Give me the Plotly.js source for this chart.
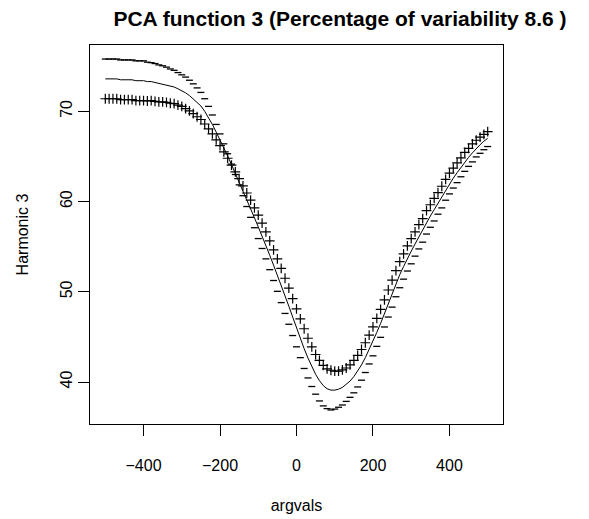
<!DOCTYPE html>
<html>
<head>
<meta charset="utf-8">
<script src="https://cdn.plot.ly/plotly-3.0.1.min.js"></script>
<style>html,body{margin:0;padding:0;background:#fff;}#chart{width:589px;height:519px;}</style>
</head>
<body>
<div id="chart"></div>
<script>
const argvals = [-500,-490,-480,-470,-460,-450,-440,-430,-420,-410,-400,-390,-380,-370,-360,-350,-340,-330,-320,-310,-300,-290,-280,-270,-260,-250,-240,-230,-220,-210,-200,-190,-180,-170,-160,-150,-140,-130,-120,-110,-100,-90,-80,-70,-60,-50,-40,-30,-20,-10,0,10,20,30,40,50,60,70,80,90,100,110,120,130,140,150,160,170,180,190,200,210,220,230,240,250,260,270,280,290,300,310,320,330,340,350,360,370,380,390,400,410,420,430,440,450,460,470,480,490,500];

const meanCurve = [73.6,73.6,73.6,73.6,73.5,73.5,73.5,73.5,73.4,73.4,73.4,73.3,73.3,73.2,73.1,73.05,72.95,72.8,72.7,72.5,72.3,72.05,71.75,71.4,71.0,70.6,70.0,69.3,68.55,67.7,66.85,65.95,65.05,64.1,63.15,62.2,61.2,60.2,59.2,58.2,57.2,56.2,55.15,54.05,52.95,51.85,50.7,49.55,48.4,47.2,46.0,44.85,43.7,42.65,41.7,40.85,40.15,39.6,39.25,39.1,39.1,39.2,39.4,39.7,40.1,40.6,41.2,41.9,42.7,43.6,44.5,45.5,46.5,47.6,48.7,49.8,50.9,51.9,52.8,53.7,54.5,55.3,56.1,56.8,57.7,58.4,59.1,59.8,60.5,61.3,62.0,62.6,63.2,63.8,64.4,64.9,65.4,65.9,66.3,66.7,67.0];

const plusCurve = [71.4,71.4,71.4,71.4,71.3,71.3,71.3,71.3,71.2,71.2,71.2,71.15,71.2,71.1,71.05,71.05,71.0,70.9,70.85,70.7,70.55,70.3,70.05,69.75,69.4,69.1,68.6,68.05,67.5,66.85,66.2,65.5,64.8,64.05,63.3,62.55,61.75,60.95,60.15,59.3,58.5,57.6,56.65,55.65,54.65,53.65,52.6,51.5,50.4,49.25,48.1,47.0,45.9,44.85,43.9,43.05,42.4,41.85,41.45,41.3,41.2,41.2,41.35,41.55,41.9,42.4,42.95,43.6,44.35,45.2,46.1,47.05,48.05,49.1,50.2,51.3,52.35,53.35,54.2,55.1,55.9,56.65,57.45,58.1,59.0,59.65,60.35,61.0,61.7,62.45,63.15,63.7,64.3,64.85,65.45,65.9,66.4,66.8,67.15,67.45,67.75];

const minusCurve = [75.8,75.8,75.8,75.8,75.7,75.7,75.7,75.7,75.6,75.6,75.6,75.45,75.4,75.3,75.15,75.05,74.9,74.7,74.55,74.3,74.05,73.8,73.45,73.05,72.6,72.1,71.4,70.55,69.6,68.55,67.5,66.4,65.3,64.15,63.0,61.85,60.65,59.45,58.25,57.1,55.9,54.8,53.65,52.45,51.25,50.05,48.8,47.6,46.4,45.15,43.9,42.7,41.5,40.45,39.5,38.65,37.9,37.35,37.05,36.9,37.0,37.2,37.45,37.85,38.3,38.8,39.45,40.2,41.05,42.0,42.9,43.95,44.95,46.1,47.2,48.3,49.45,50.45,51.4,52.3,53.1,53.95,54.75,55.5,56.4,57.15,57.85,58.6,59.3,60.15,60.85,61.5,62.1,62.75,63.35,63.9,64.4,64.95,65.35,65.75,66.1];

const xTicks = [-400, -200, 0, 200, 400];
const yTicks = [40, 50, 60, 70];
const titleText = 'PCA function 3 (Percentage of variability 8.6 )';
const xLabel = 'argvals';
const yLabel = 'Harmonic 3';

// R-style 4% axis expansion from data extents
function rRange(arrs) {
  let lo = Infinity, hi = -Infinity;
  arrs.forEach(a => a.forEach(v => { if (v < lo) lo = v; if (v > hi) hi = v; }));
  const d = (hi - lo) * 0.04;
  return [lo - d, hi + d];
}

const font = 'Liberation Sans, Arial, sans-serif';

const traces = [
  { x: argvals, y: meanCurve, type: 'scatter', mode: 'lines', line: { color: '#000', width: 1 }, name: 'mean' },
  { x: argvals, y: plusCurve, type: 'scatter', mode: 'markers', marker: { symbol: 'cross-thin', size: 7, line: { color: '#000', width: 1.2 } }, name: '+' },
  { x: argvals, y: minusCurve, type: 'scatter', mode: 'markers', marker: { symbol: 'line-ew', size: 5, line: { color: '#000', width: 1.3 } }, name: '-' }
];

const axisCommon = {
  showgrid: false, zeroline: false, showline: true, mirror: true,
  linecolor: '#000', linewidth: 1, ticks: 'outside', ticklen: 11, tickwidth: 1, tickcolor: '#000',
  tickfont: { family: font, size: 16, color: '#000' }
};

const layout = {
  width: 589, height: 519,
  margin: { l: 90, r: 86, t: 45, b: 95 },
  paper_bgcolor: '#fff', plot_bgcolor: '#fff',
  showlegend: false,
  title: { text: titleText, font: { family: font, size: 21, color: '#000', weight: 'bold' }, x: 340 / 589, xref: 'container', xanchor: 'center', y: 1 - 19 / 519, yref: 'container', yanchor: 'middle' },
  xaxis: Object.assign({}, axisCommon, {
    range: rRange([argvals]), tickmode: 'array', tickvals: xTicks, ticklabelstandoff: 16,
    title: { text: xLabel, font: { family: font, size: 16, color: '#000' }, standoff: 26 }
  }),
  yaxis: Object.assign({}, axisCommon, {
    range: rRange([meanCurve, plusCurve, minusCurve]), tickmode: 'array', tickvals: yTicks, tickangle: -90, ticklabelstandoff: 0,
    title: { text: yLabel, font: { family: font, size: 16, color: '#000' }, standoff: 24 }
  })
};

Plotly.newPlot('chart', traces, layout, { staticPlot: true, displayModeBar: false });
</script>
</body>
</html>
